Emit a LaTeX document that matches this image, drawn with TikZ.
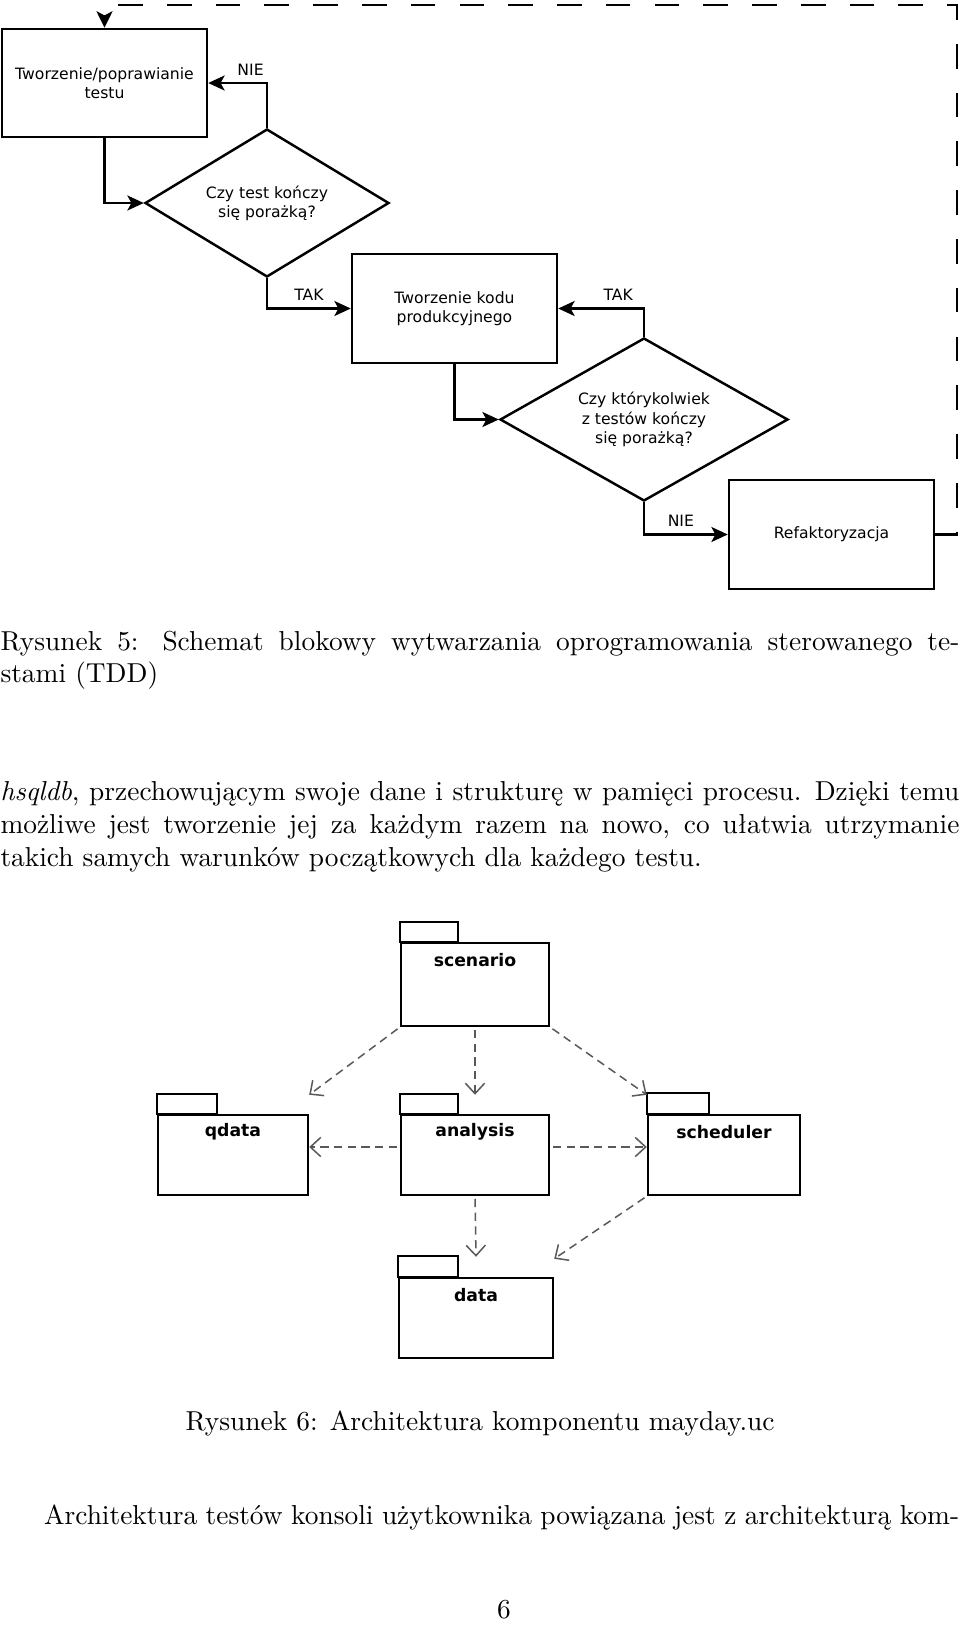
\documentclass[tikz,border=0pt]{standalone}
\usepackage{fontspec}
\newfontfamily\dejavu{DejaVu Sans}
\usetikzlibrary{arrows.meta,shapes.geometric}
\def\pxu{0.365pt}
\begin{document}
\begin{tikzpicture}[x=0.365pt,y=-0.365pt,
  fsans/.style={font=\dejavu\fontsize{5.7}{7}\selectfont},
  fbox/.style 2 args={draw, line width=0.9pt, rectangle, inner sep=0pt, minimum width=#1*\pxu, minimum height=#2*\pxu, align=center, fsans},
  fdia/.style 2 args={draw, line width=0.9pt, diamond, inner sep=0pt, minimum width=#1*\pxu, minimum height=#2*\pxu, aspect=1.7, align=center, fsans},
  farr/.style={line width=0.75pt, -{Stealth[length=6pt,width=5.5pt,inset=1.5pt]}},
  flab/.style={fsans, inner sep=0pt},
  loopline/.style={line width=1.05pt, dash pattern=on 9pt off 8.8pt, -{Stealth[length=6pt,width=5.8pt,inset=1.5pt]}},
  pkg/.style 2 args={draw, line width=0.9pt, inner sep=0pt, minimum width=#1*\pxu, minimum height=#2*\pxu},
  pkgtab/.style={line width=0.9pt},
  pkglab/.style={font=\dejavu\bfseries\fontsize{6.3}{7}\selectfont, anchor=center, yshift=-18*\pxu, inner sep=0pt},
  dep/.style={draw=black!65, line width=0.55pt, dash pattern=on 3pt off 2pt, shorten <=1pt, -{Straight Barb[length=3.8pt,width=7pt]}},
  txt/.style={anchor=base west, inner sep=0pt, font=\fontsize{10}{12}\selectfont},
]
\useasboundingbox (0,0) rectangle (960,1625);

% ---------- flowchart (Rysunek 5) ----------
\node[fbox={205}{108}] (b1) at (104.5,83) {Tworzenie/poprawianie\\testu};
\node[fdia={244}{148}] (d1) at (267,203) {Czy test kończy\\się porażką?};
\node[fbox={205}{109}] (b2) at (454.5,308.5) {Tworzenie kodu\\produkcyjnego};
\node[fdia={288}{163}] (d2) at (644,419.5) {Czy którykolwiek\\z testów kończy\\się porażką?};
\node[fbox={205}{109}] (b3) at (831.5,534.5) {Refaktoryzacja};

\draw[farr] (b1.south) |- (d1.west);
\draw[farr] (d1.north) |- node[flab, pos=0.64, above=2.5pt] (nie1) {NIE} (b1.east);
\draw[farr] (d1.south) |- node[flab, pos=0.75, above=2.5pt] (tak1) {TAK} (b2.west);
\draw[farr] (d2.north) |- node[flab, pos=0.65, above=2.5pt] (tak2) {TAK} (b2.east);
\draw[farr] (b2.south) |- (d2.west);
\draw[farr] (d2.south) |- node[flab, pos=0.72, above=2.5pt] (nie2) {NIE} (b3.west);

\coordinate (cr) at (957,5);
\coordinate (cl) at (104.5,5);
\draw[loopline] (b3.east) -| (cr) -- (cl) -- (b1.north);

% ---------- captions and text ----------
\node[txt] (cap5a) at (0,650) {\makebox[350pt][s]{Rysunek 5: Schemat blokowy wytwarzania oprogramowania sterowanego te-}};
\node[txt] (cap5b) at (0,682) {stami (TDD)};
\node[txt] (p1) at (0,800) {\makebox[350pt][s]{\textit{hsqldb}, przechowującym swoje dane i strukturę w pamięci procesu. Dzięki temu}};
\node[txt] (p2) at (0,833) {\makebox[350pt][s]{możliwe jest tworzenie jej za każdym razem na nowo, co ułatwia utrzymanie}};
\node[txt] (p3) at (0,866) {takich samych warunków początkowych dla każdego testu.};

% ---------- package diagram (Rysunek 6) ----------
\node[pkg={148}{83}, label={[pkglab]north:scenario}] (scen) at (475,984.5) {};
\draw[pkgtab] (scen.north west) rectangle ++(58,-20);
\node[pkg={150}{80}, label={[pkglab]north:qdata}] (qdata) at (233,1155) {};
\draw[pkgtab] (qdata.north west) rectangle ++(60,-20);
\node[pkg={148}{80}, label={[pkglab]north:analysis}] (ana) at (475,1155) {};
\draw[pkgtab] (ana.north west) rectangle ++(58,-20);
\node[pkg={152}{80}, label={[pkglab]north:scheduler}] (sched) at (724,1155) {};
\draw[pkgtab] (sched.north west) rectangle ++(62,-21);
\node[pkg={154}{80}, label={[pkglab]north:data}] (data) at (476,1318) {};
\draw[pkgtab] (data.north west) rectangle ++(60,-21);

\draw[dep] (scen.south west) -- ([yshift=19*\pxu]qdata.north east);
\draw[dep] (scen.south) -- ([yshift=19*\pxu]ana.north);
\draw[dep] (scen.south east) -- ([yshift=19*\pxu]sched.north west);
\draw[dep] ([yshift=8*\pxu]ana.west) -- ([yshift=8*\pxu]qdata.east);
\draw[dep] ([yshift=8*\pxu]ana.east) -- ([yshift=8*\pxu]sched.west);
\draw[dep] (ana.south) -- ([yshift=20*\pxu]data.north);
\draw[dep] (sched.south west) -- ([yshift=18*\pxu]data.north east);

\node[txt, anchor=base] (cap6) at (480,1430) {Rysunek 6: Architektura komponentu mayday.uc};
\node[txt] (p4) at (43.5,1524) {\makebox[334pt][s]{Architektura testów konsoli użytkownika powiązana jest z architekturą kom-}};
\node[txt, anchor=base] (pg) at (504,1618) {6};
\end{tikzpicture}
\end{document}
